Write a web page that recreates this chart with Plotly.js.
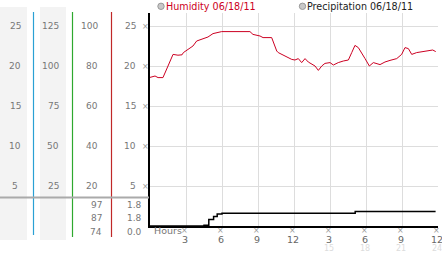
<!DOCTYPE html>
<html><head><meta charset="utf-8">
<script src="https://cdn.plot.ly/plotly-3.0.1.min.js"></script>
<style>html,body{margin:0;padding:0;background:#fff}#c{width:442px;height:253px}</style>
</head><body><div id="c"></div>
<script>
// ---- data ----
const humHours = [0,0.17,0.42,0.67,1.08,1.5,1.92,2.33,2.67,2.78,3.33,3.58,3.89,4.42,4.83,5.25,5.97,8.33,8.58,9.17,9.42,10.14,10.56,10.69,10.97,11.25,11.5,11.81,12.08,12.36,12.64,12.92,13.19,13.47,13.75,14.03,14.31,14.58,15.0,15.28,15.69,16.11,16.53,16.81,17.08,17.36,17.64,17.92,18.28,18.61,19.17,19.58,20.0,20.56,20.97,21.25,21.53,21.81,22.22,22.92,23.33,23.56,23.81];
const humValues = [74.3,74.5,75,74.2,74.2,80,85.8,85.4,85.6,86.7,88.7,90,92.5,93.7,94.5,96.2,97.2,97.2,95.8,95,94.2,94.2,87.5,86.7,85.8,85,84.2,83.3,83,83.7,81.7,83.7,82,80.8,80,77.8,80,81.3,81.7,80.5,81.7,82.5,83,86.7,90.3,89.2,86.7,83.7,80,81.7,80.7,82,82.8,83.7,85.8,89.2,88.7,85.8,86.7,87.2,87.5,88,87.2];
const precHours = [0,4.5,4.9,5.3,5.6,6.0,17.1,23.8];
const precValues = [0,0.1,0.8,1.2,1.5,1.6,1.8,1.8];
const tickVals = [5,10,15,20,25];
const col1Labels = ['5','10','15','20','25'];
const col2Labels = ['25','50','75','100','125'];
const col3Labels = ['20','40','60','80','100'];
const mainLabels = ['5','10','15','20','25'];
const humStats = ['97','87','74'];
const precStats = ['1.8','1.8','0.0'];
const xTickVals = [3,6,9,12,15,18,21,24];
const xTickTop = ['3','6','9','12','3','6','9','12'];
const xTickBottom = ['','','','','15','18','21','24'];
const humName = 'Humidity 06/18/11';
const precName = 'Precipitation 06/18/11';

// ---- geometry helpers (pixel -> paper) ----
const L=150, R=4, T=13, B=27, W=442, H=253;
const pw = W-L-R, ph = H-T-B;
const xp = px => (px-L)/pw;
const yp = py => (H-B-py)/ph;
const FONT = 'DejaVu Sans, Verdana, sans-serif';

const shapes = [];
const ann = [];
// gray column backgrounds
[[0,27],[40,66]].forEach(([a,b])=>shapes.push({type:'rect',xref:'paper',yref:'paper',x0:xp(a),x1:xp(b),y0:yp(240),y1:yp(7),fillcolor:'#f3f3f3',line:{width:0},layer:'below'}));
// colored vertical separators
[[33.5,'#2aa0d4',235],[72.5,'#2ea82e',237],[111.5,'#c02828',237]].forEach(([x,c,yb])=>shapes.push({type:'line',xref:'paper',yref:'paper',x0:xp(x),x1:xp(x),y0:yp(yb),y1:yp(12),line:{color:c,width:1.2}}));
// gray horizontal separator
shapes.push({type:'line',xref:'paper',yref:'paper',x0:xp(0),x1:xp(149),y0:yp(197.5),y1:yp(197.5),line:{color:'#aaaaaa',width:2}});
// legend circles
[161,302.5].forEach(cx=>shapes.push({type:'circle',xref:'paper',yref:'paper',x0:xp(cx-3.2),x1:xp(cx+3.2),y0:yp(9.5),y1:yp(3.1),fillcolor:'#c8c8c8',line:{color:'#999',width:1}}));

const lab = (text,xpx,yval,color,anchor,size,yref)=>({text:text,xref:'paper',x:xp(xpx),yref:yref||'y',y:yval,xanchor:anchor,yanchor:'middle',showarrow:false,font:{family:FONT,size:size||9,color:color}});
tickVals.forEach((v,i)=>{
  ann.push(lab(col1Labels[i],15,v,'#777','center'));
  ann.push(lab(col2Labels[i],61,v,'#777','right'));
  ann.push(lab(col3Labels[i],100,v,'#777','right'));
  ann.push(lab(mainLabels[i],138,v,'#777','right'));
  ann.push(lab('×',145.5,v,'#999','center',8));
});
[204.5,218,231.5].forEach((py,i)=>{
  ann.push(lab(humStats[i],104,yp(py),'#777','right',9,'paper'));
  ann.push(lab(precStats[i],144,yp(py),'#777','right',9,'paper'));
});
xTickVals.forEach((v,i)=>{
  ann.push({text:'×',xref:'x',x:v-0.1,yref:'paper',y:yp(231),xanchor:'center',yanchor:'middle',showarrow:false,font:{family:FONT,size:8,color:'#999'}});
  ann.push({text:xTickTop[i],xref:'x',x:v-0.12,yref:'paper',y:yp(239.5),xanchor:'center',yanchor:'middle',showarrow:false,font:{family:FONT,size:9.5,color:'#666'}});
  if(xTickBottom[i]) ann.push({text:xTickBottom[i],xref:'x',x:v-0.12,yref:'paper',y:yp(248.5),xanchor:'center',yanchor:'middle',showarrow:false,font:{family:FONT,size:8,color:'#dcdcdc'}});
});
ann.push({text:'Hours',xref:'paper',x:xp(152),yref:'paper',y:yp(231),xanchor:'left',yanchor:'middle',showarrow:false,font:{family:FONT,size:9.5,color:'#777'}});
ann.push({text:humName,xref:'paper',x:xp(163.5),yref:'paper',y:yp(6.5),xanchor:'left',yanchor:'middle',showarrow:false,font:{family:FONT,size:9.6,color:'#cc0022'}});
ann.push({text:precName,xref:'paper',x:xp(304.5),yref:'paper',y:yp(6.5),xanchor:'left',yanchor:'middle',showarrow:false,font:{family:FONT,size:9.6,color:'#222'}});

const traces = [
  {x:precHours,y:precValues,type:'scatter',mode:'lines',line:{color:'#000',width:1.5,shape:'hv'},yaxis:'y',name:precName,hoverinfo:'skip'},
  {x:humHours,y:humValues,type:'scatter',mode:'lines',line:{color:'#cc0022',width:1},yaxis:'y2',name:humName,hoverinfo:'skip'}
];
const layout = {
  width:W,height:H,margin:{l:L,r:R,t:T,b:B,pad:0},
  paper_bgcolor:'#fff',plot_bgcolor:'#fff',showlegend:false,
  xaxis:{range:[0,24],tickvals:xTickVals,showticklabels:false,ticks:'',showgrid:true,gridcolor:'#dddddd',gridwidth:1,zeroline:false,showline:true,linecolor:'#000',linewidth:2,fixedrange:true},
  yaxis:{range:[0,ph/8],tickvals:tickVals,showticklabels:false,ticks:'',showgrid:true,gridcolor:'#dddddd',gridwidth:1,zeroline:false,showline:true,linecolor:'#000',linewidth:2,fixedrange:true},
  yaxis2:{range:[0,ph/2],overlaying:'y',visible:false,showgrid:false,zeroline:false,fixedrange:true},
  shapes:shapes,annotations:ann
};
Plotly.newPlot('c',traces,layout,{staticPlot:true,displayModeBar:false});
</script></body></html>
